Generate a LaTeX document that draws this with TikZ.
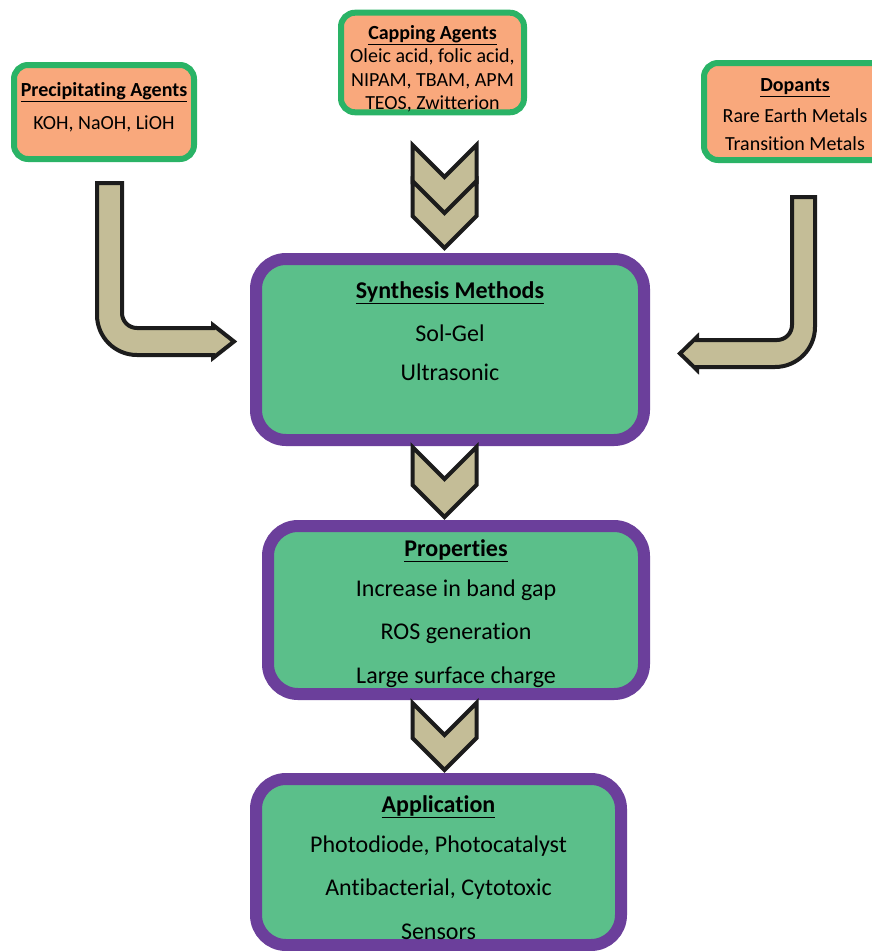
\documentclass[tikz,border=0pt]{standalone}
\usepackage{fontspec}
\setmainfont{Carlito}[Ligatures={NoCommon}]

\definecolor{agentfill}{HTML}{F9A87C}
\definecolor{agentedge}{HTML}{2AB366}
\definecolor{stagefill}{HTML}{5BBF8A}
\definecolor{stageedge}{HTML}{6B3F9B}
\definecolor{arrowtan}{HTML}{C4BD97}
\definecolor{outline}{HTML}{1C1C1C}

\newcommand{\boxtitle}[1]{\underline{\textbf{#1}}}

\begin{document}
\begin{tikzpicture}[x=1pt, y=-1pt,
    agent/.style={draw=agentedge, fill=agentfill, line width=6pt, rounded corners=14pt,
        inner sep=0pt, align=center, font=\fontsize{20}{23.5}\selectfont},
    stage/.style={draw=stageedge, fill=stagefill, line width=12pt, rounded corners=30pt,
        inner sep=0pt, align=center, font=\fontsize{24}{29}\selectfont},
    chev/.style={draw=outline, fill=arrowtan, line width=4pt, line join=miter},
    chevron/.pic={\draw[chev] (-32,0) -- (0,32) -- (32,0) -- (32,#1) -- (0,#1+32) -- (-32,#1) -- cycle;}]

    \useasboundingbox (0,0) rectangle (872,951);
    \clip (0,0) rectangle (872,951);

    % Agents
    \node[agent, minimum width=180pt, minimum height=94pt] (prec) at (104,112)
        {\boxtitle{Precipitating Agents}\\[10pt] KOH, NaOH, LiOH\\[-11pt] \mbox{}};
    \node[agent, minimum width=183pt, minimum height=95pt] (cap) at (432.5,62.5)
        {\mbox{}\\[3pt] \boxtitle{Capping Agents}\\ Oleic acid, folic acid,\\ NIPAM, TBAM, APM\\ TEOS, Zwitterion};
    \node[agent, minimum width=182pt, minimum height=97pt] (dop) at (795,111.5)
        {\mbox{}\\[-5pt] \boxtitle{Dopants}\\[8pt] Rare Earth Metals\\[4pt] Transition Metals};

    % Stages
    \node[stage, minimum width=388pt, minimum height=181pt] (synth) at (450,349.5)
        {\boxtitle{Synthesis Methods}\\[14pt] Sol-Gel\\[10pt] Ultrasonic\\[8pt] \mbox{}};
    \node[stage, minimum width=376pt, minimum height=168pt] (prop) at (456,610)
        {\mbox{}\\[-5pt] \boxtitle{Properties}\\[11pt] Increase in band gap\\[14pt] ROS generation\\[15pt] Large surface charge};
    \node[stage, minimum width=365pt, minimum height=166pt] (app) at (438.5,862)
        {\mbox{}\\[-1pt] \boxtitle{Application}\\[11pt] Photodiode, Photocatalyst\\[14pt] Antibacterial, Cytotoxic\\[15pt] Sensors};

    % Chevrons
    \pic at (444.5,145) {chevron=38};
    \pic at (444.5,181) {chevron=35};
    \pic at (444.5,447) {chevron=38};
    \pic at (444.5,703) {chevron=35};

    % Bent arrows
    \draw[chev] (97,183) -- (122,183) [rounded corners=15pt] -- (122,328) [sharp corners]
        -- (213,328) -- (213,325) -- (234,341.5) -- (213,358) -- (213,355)
        [rounded corners=40pt] -- (97,355) [sharp corners] -- cycle;
    \draw[chev] (792,197) -- (815,197) [rounded corners=40pt] -- (815,367) [sharp corners]
        -- (697,367) -- (697,370) -- (680,353.5) -- (697,337) -- (697,340)
        [rounded corners=15pt] -- (792,340) [sharp corners] -- cycle;
\end{tikzpicture}
\end{document}
